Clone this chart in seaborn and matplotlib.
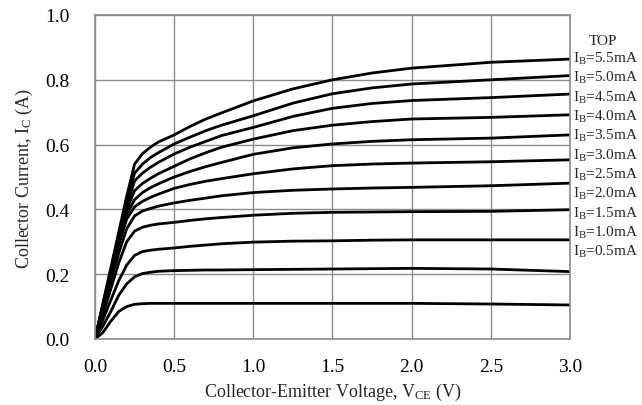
import numpy as np
import pandas as pd
import seaborn as sns
import matplotlib.pyplot as plt

# collector-emitter voltage samples (V), shared by every curve
vce = [0, 0.05, 0.1, 0.15, 0.2, 0.25, 0.3, 0.35, 0.4, 0.5, 0.6, 0.7, 0.8,
       1.0, 1.25, 1.5, 1.75, 2.0, 2.5, 3.0]

# collector current (A), one list per base current
ic_05 = [0, .020, .055, .085, .100, .107, .109, .110, .110, .110, .110, .110, .110,
         .110, .110, .110, .110, .110, .108, .105]
ic_10 = [0, .040, .085, .135, .170, .192, .202, .206, .209, .211, .212, .213, .213,
         .214, .215, .216, .217, .218, .216, .208]
ic_15 = [0, .060, .120, .180, .228, .258, .270, .274, .277, .281, .286, .290, .294,
         .299, .302, .303, .305, .306, .306, .306]
ic_20 = [0, .075, .155, .235, .300, .333, .345, .351, .355, .360, .366, .371, .375,
         .382, .388, .391, .392, .393, .394, .399]
ic_25 = [0, .090, .180, .265, .340, .380, .395, .403, .410, .420, .428, .435, .442,
         .452, .459, .463, .466, .468, .473, .481]
ic_30 = [0, .098, .195, .290, .370, .408, .425, .437, .447, .465, .477, .487, .495,
         .510, .525, .535, .540, .543, .547, .553]
ic_35 = [0, .100, .198, .295, .385, .430, .452, .467, .479, .500, .517, .532, .545,
         .570, .590, .602, .610, .615, .620, .630]
ic_40 = [0, .102, .202, .302, .398, .458, .480, .496, .510, .533, .556, .575, .592,
         .617, .643, .660, .671, .679, .684, .692]
ic_45 = [0, .104, .207, .310, .412, .488, .512, .530, .545, .571, .592, .610, .628,
         .653, .687, .712, .727, .736, .745, .756]
ic_50 = [0, .107, .213, .320, .426, .512, .540, .560, .575, .602, .623, .643, .660,
         .689, .728, .757, .775, .787, .800, .813]
ic_55 = [0, .110, .220, .330, .440, .540, .572, .592, .608, .630, .656, .679, .698,
         .735, .772, .800, .821, .836, .854, .864]

ib_values = ['0.5', '1.0', '1.5', '2.0', '2.5', '3.0', '3.5', '4.0', '4.5', '5.0', '5.5']
curves = [ic_05, ic_10, ic_15, ic_20, ic_25, ic_30, ic_35, ic_40, ic_45, ic_50, ic_55]

rows = []
for ib, ic in zip(ib_values, curves):
    for v, i in zip(vce, ic):
        rows.append({'vce': v, 'ic': i, 'ib': ib})
df = pd.DataFrame(rows)

sns.set_style('white')
plt.rcParams['font.family'] = ['Liberation Serif', 'DejaVu Serif']
plt.rcParams['mathtext.fontset'] = 'custom'
plt.rcParams['mathtext.rm'] = 'Liberation Serif'
plt.rcParams['mathtext.it'] = 'Liberation Serif:italic'

fig = plt.figure(figsize=(6.42, 4.06), dpi=100)
ax = fig.add_axes([95 / 642, 66 / 406, 475 / 642, 324 / 406])

sns.lineplot(data=df, x='vce', y='ic', hue='ib', palette=['black'] * len(ib_values),
             linewidth=2.0, legend=False, ax=ax)

ax.set_xlim(0, 3.0)
ax.set_ylim(0, 1.0)
ax.set_xticks(np.arange(0, 3.01, 0.5))
ax.set_yticks(np.arange(0, 1.01, 0.2))
ax.set_xticklabels([f'{t:.1f}' for t in np.arange(0, 3.01, 0.5)])
ax.set_yticklabels([f'{t:.1f}' for t in np.arange(0, 1.01, 0.2)])
ax.grid(True, color='#8c8c8c', linewidth=1.0)
for s in ax.spines.values():
    s.set_color('#8c8c8c')
    s.set_linewidth(1.2)
ax.tick_params(axis='both', direction='in', length=5, color='#8c8c8c',
               labelsize=14, labelcolor='black')
ax.tick_params(axis='x', pad=14)
ax.tick_params(axis='y', pad=18)

ax.set_xlabel(r'Collector-Emitter Voltage, V$_{\rm CE}$ (V)', fontsize=13, labelpad=4)
ax.set_ylabel(r'Collector Current, I$_{\rm C}$ (A)', fontsize=13, labelpad=8)

# right-hand list of base currents
ax.text(3.21, 0.92, 'TOP', fontsize=11, ha='center', va='center', clip_on=False)
for k, ib in enumerate(ib_values[::-1]):
    ax.text(3.02, 0.867 - 0.0596 * k, r'I$_{\rm B}$=' + ib + 'mA', fontsize=11,
            ha='left', va='center', clip_on=False)

fig.savefig('out.png', dpi=100)
